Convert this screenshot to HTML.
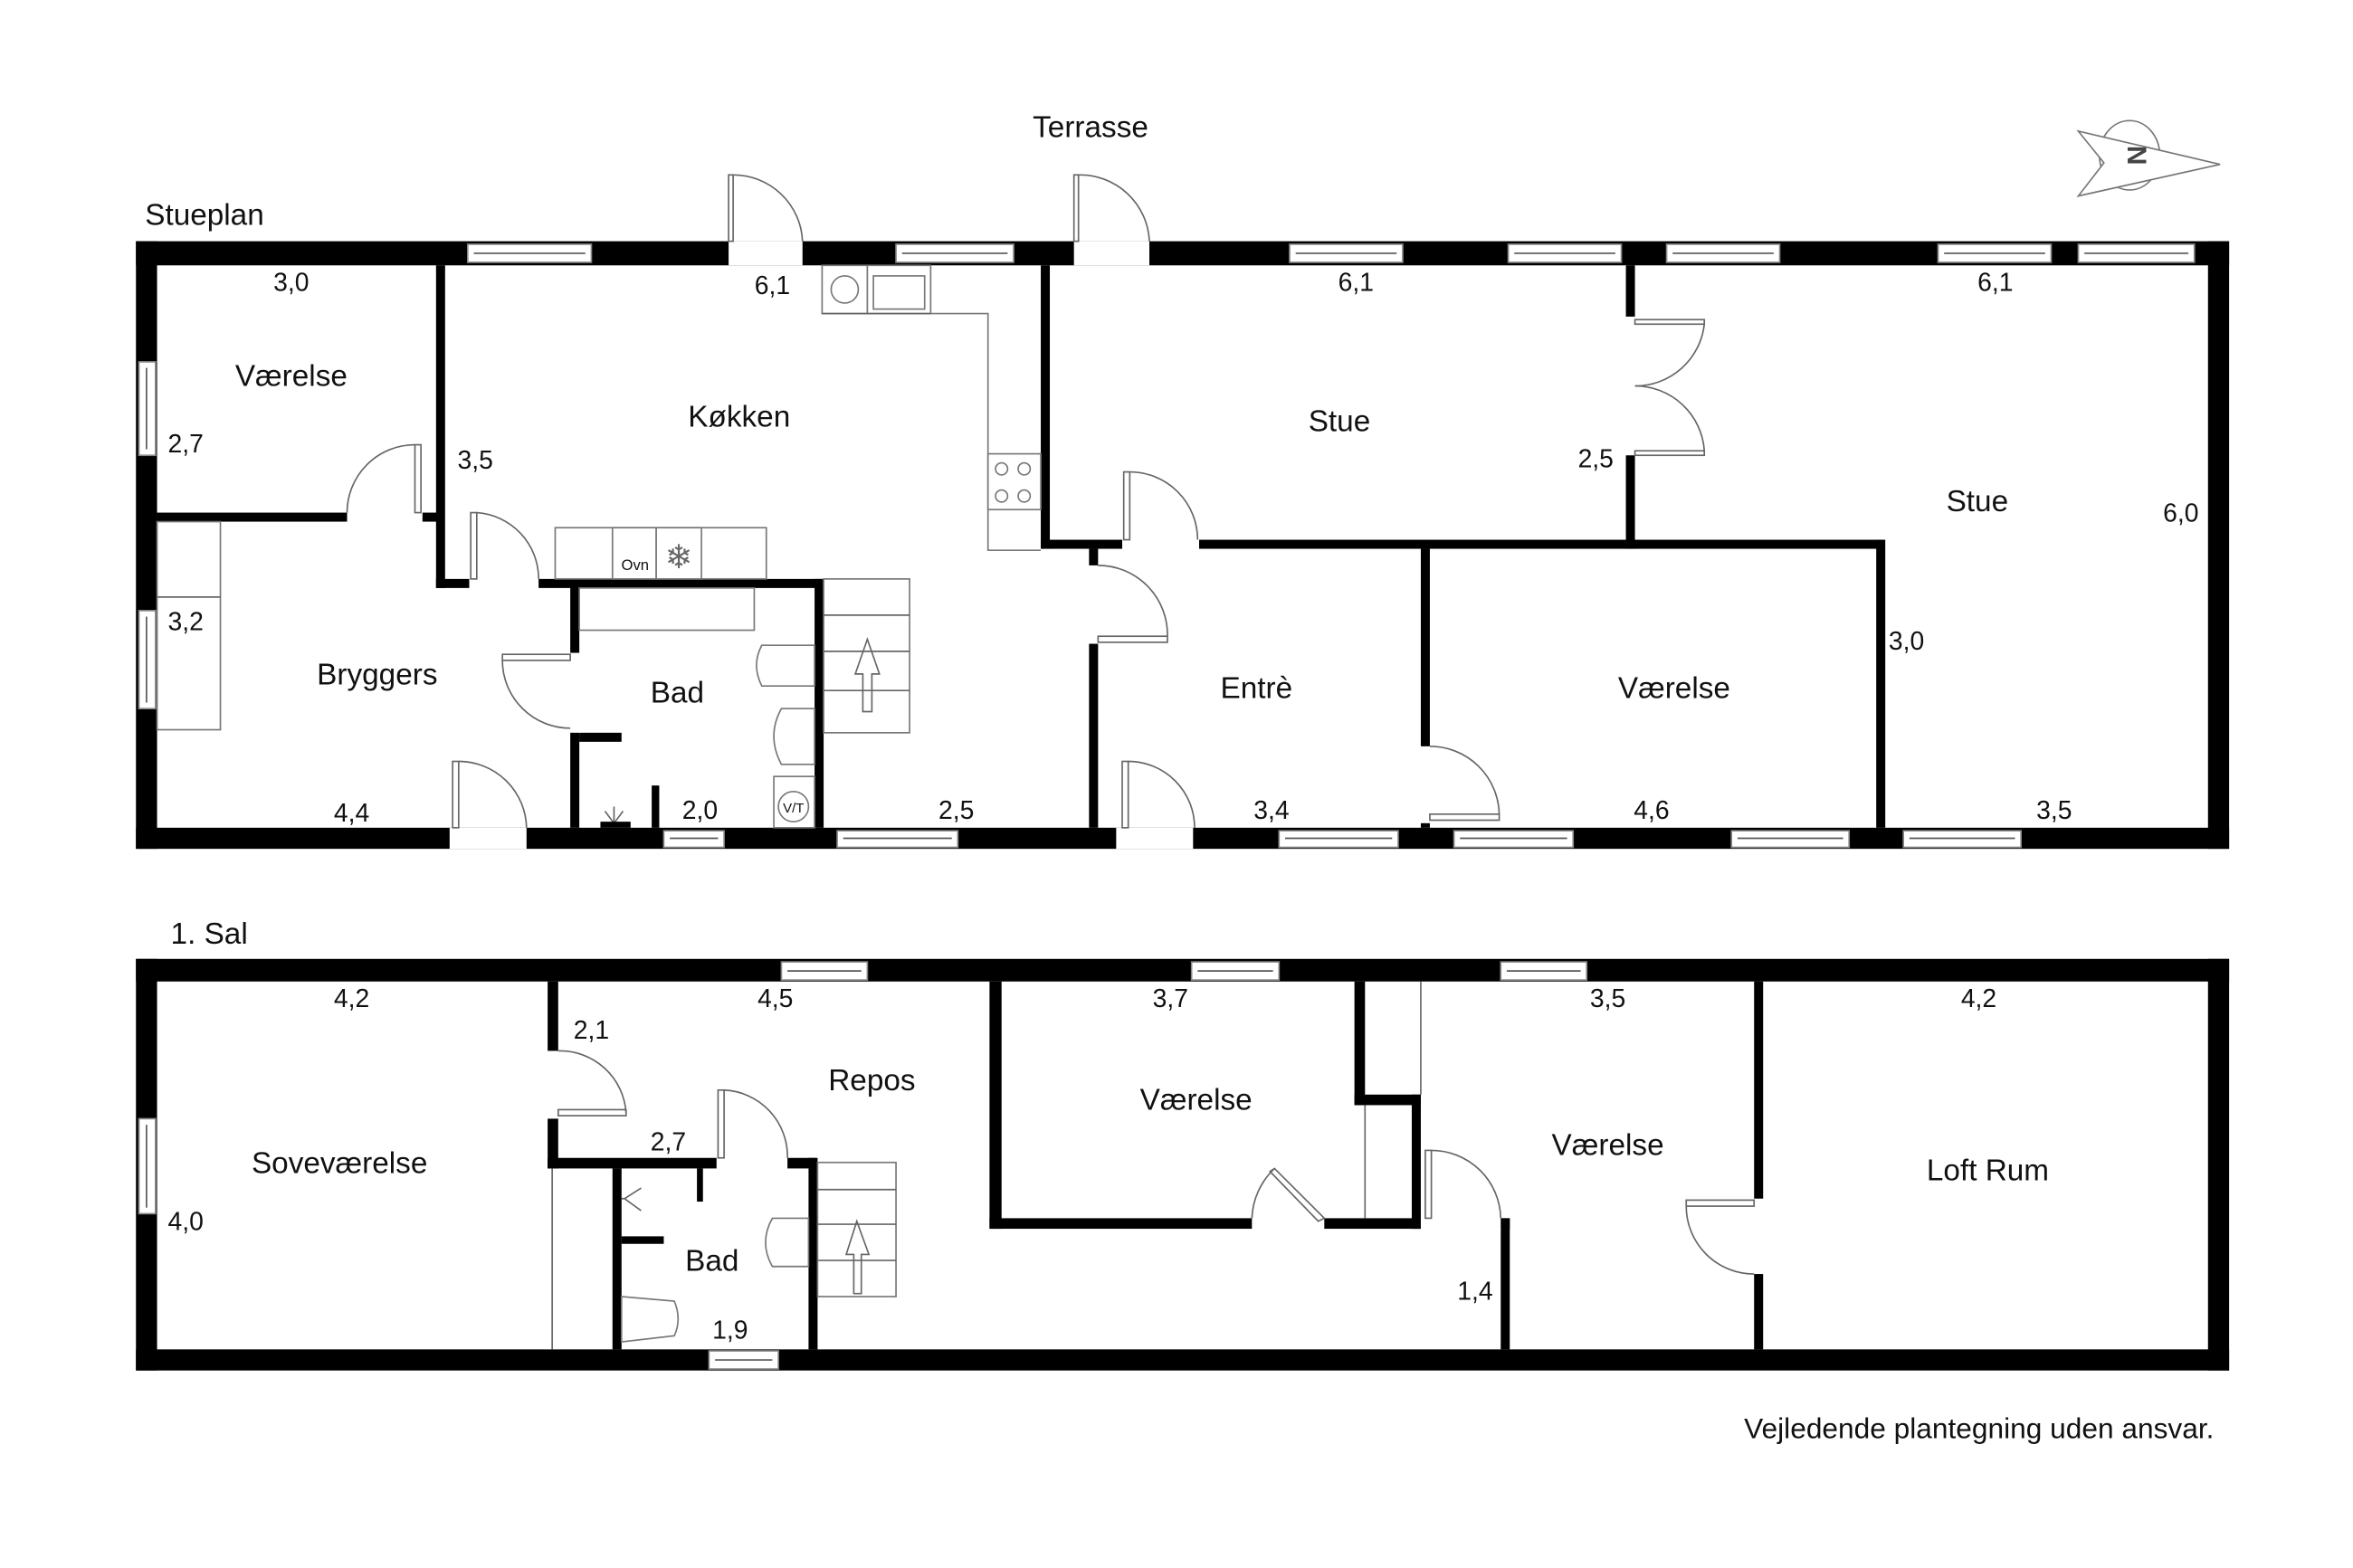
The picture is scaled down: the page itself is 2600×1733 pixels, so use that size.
<!DOCTYPE html>
<html><head><meta charset="utf-8"><style>
html,body{margin:0;padding:0;background:#fff}
svg{display:block}
text{font-family:"Liberation Sans",sans-serif;fill:#111}
.r{font-size:20px;text-anchor:middle}
.d{font-size:17px;text-anchor:middle}
.w{fill:#fff;stroke:#888;stroke-width:1}
.ln{stroke:#555;stroke-width:1;fill:none}
.ds{fill:none;stroke:#666;stroke-width:1}
.fx{fill:#fff;stroke:#777;stroke-width:1}
</style></head><body>
<svg width="2600" height="1733" viewBox="0 0 1560 1040" xmlns="http://www.w3.org/2000/svg">
<rect width="1560" height="1040" fill="#fff"/>
<text x="723" y="91" class="r">Terrasse</text>
<text x="96" y="149" style="font-size:20px">Stueplan</text>
<text x="113" y="626" style="font-size:20px">1. Sal</text>
<text x="1468" y="954" style="font-size:19px;text-anchor:end">Vejledende plantegning uden ansvar.</text>
<!-- compass -->
<ellipse cx="1412" cy="103" rx="20" ry="23" fill="none" stroke="#777" stroke-width="1"/>
<polygon points="1378,87 1472,109 1378,130 1395,108" fill="#fff" stroke="#777" stroke-width="1"/>
<text x="1416" y="110" transform="rotate(-90 1416 103)" style="font-size:18px;font-weight:bold;fill:#444;text-anchor:middle">N</text>

<!-- GROUND FLOOR outer walls -->
<g fill="#000">
<rect x="90" y="160" width="1388" height="16"/>
<rect x="90" y="549" width="1388" height="14"/>
<rect x="90" y="160" width="14" height="403"/>
<rect x="1464" y="160" width="14" height="403"/>
<rect x="289" y="176" width="6" height="214"/>
<rect x="104" y="340" width="186" height="6"/>
<rect x="289" y="384" width="256" height="6"/>
<rect x="378" y="384" width="6" height="165"/>
<rect x="540" y="384" width="6" height="165"/>
<rect x="384" y="486" width="28" height="6"/>
<rect x="432" y="521" width="5" height="28"/>
<rect x="690" y="176" width="6" height="188"/>
<rect x="690" y="358" width="558" height="6"/>
<rect x="1078" y="176" width="6" height="188"/>
<rect x="1244" y="358" width="6" height="191"/>
<rect x="722" y="364" width="6" height="185"/>
<rect x="942" y="364" width="6" height="185"/>
</g>
<g>
<rect class="w" x="310" y="162" width="82" height="12"/><line class="ln" x1="314" y1="168" x2="388" y2="168"/>
<rect class="w" x="594" y="162" width="78" height="12"/><line class="ln" x1="598" y1="168" x2="668" y2="168"/>
<rect class="w" x="855" y="162" width="75" height="12"/><line class="ln" x1="859" y1="168" x2="926" y2="168"/>
<rect class="w" x="1000" y="162" width="75" height="12"/><line class="ln" x1="1004" y1="168" x2="1071" y2="168"/>
<rect class="w" x="1105" y="162" width="75" height="12"/><line class="ln" x1="1109" y1="168" x2="1176" y2="168"/>
<rect class="w" x="1285" y="162" width="75" height="12"/><line class="ln" x1="1289" y1="168" x2="1356" y2="168"/>
<rect class="w" x="1378" y="162" width="77" height="12"/><line class="ln" x1="1382" y1="168" x2="1451" y2="168"/>
<rect class="w" x="440" y="551" width="40" height="11"/><line class="ln" x1="444" y1="556" x2="476" y2="556"/>
<rect class="w" x="555" y="551" width="80" height="11"/><line class="ln" x1="559" y1="556" x2="631" y2="556"/>
<rect class="w" x="848" y="551" width="79" height="11"/><line class="ln" x1="852" y1="556" x2="923" y2="556"/>
<rect class="w" x="964" y="551" width="79" height="11"/><line class="ln" x1="968" y1="556" x2="1039" y2="556"/>
<rect class="w" x="1148" y="551" width="78" height="11"/><line class="ln" x1="1152" y1="556" x2="1222" y2="556"/>
<rect class="w" x="1262" y="551" width="78" height="11"/><line class="ln" x1="1266" y1="556" x2="1336" y2="556"/>
<rect class="w" x="92" y="240" width="11" height="62"/><line class="ln" x1="97" y1="244" x2="97" y2="298"/>
<rect class="w" x="92" y="405" width="11" height="65"/><line class="ln" x1="97" y1="409" x2="97" y2="466"/>
</g>
<g>
<rect fill="#fff" x="483" y="160" width="49" height="16"/><rect class="ds" x="483" y="116" width="3" height="44"/><path class="ds" d="M486,116 A46,46 0 0 1 532,160"/>
<rect fill="#fff" x="712" y="160" width="50" height="16"/><rect class="ds" x="712" y="116" width="3" height="44"/><path class="ds" d="M715,116 A46,46 0 0 1 762,160"/>
<rect fill="#fff" x="230" y="339" width="50" height="8"/><rect class="ds" x="275" y="295" width="4" height="45"/><path class="ds" d="M275,295 A45,45 0 0 0 230,340"/>
<rect fill="#fff" x="311" y="383" width="46" height="8"/><rect class="ds" x="312" y="340" width="4" height="44"/><path class="ds" d="M316,340 A44,44 0 0 1 357,384"/>
<rect fill="#fff" x="377" y="433" width="8" height="53"/><rect class="ds" x="333" y="434" width="45" height="4"/><path class="ds" d="M333,438 A45,45 0 0 0 378,483"/>
<rect fill="#fff" x="298" y="549" width="51" height="14"/><rect class="ds" x="300" y="505" width="4" height="44"/><path class="ds" d="M304,505 A45,45 0 0 1 349,549"/>
<rect fill="#fff" x="744" y="357" width="51" height="8"/><rect class="ds" x="745" y="313" width="4" height="45"/><path class="ds" d="M749,313 A45,45 0 0 1 794,358"/>
<rect fill="#fff" x="721" y="375" width="8" height="52"/><rect class="ds" x="728" y="422" width="46" height="4"/><path class="ds" d="M728,375 A46,46 0 0 1 774,422"/>
<rect fill="#fff" x="740" y="549" width="51" height="14"/><rect class="ds" x="744" y="505" width="4" height="44"/><path class="ds" d="M748,505 A44,44 0 0 1 792,549"/>
<rect fill="#fff" x="941" y="495" width="8" height="51"/><rect class="ds" x="948" y="540" width="46" height="4"/><path class="ds" d="M948,495 A46,46 0 0 1 994,540"/>
<rect fill="#fff" x="1077" y="210" width="8" height="92"/>
<rect class="ds" x="1084" y="212" width="46" height="3"/><path class="ds" d="M1130,215 A46,46 0 0 1 1084,256"/>
<rect class="ds" x="1084" y="299" width="46" height="3"/><path class="ds" d="M1130,299 A46,46 0 0 0 1084,256"/>
</g>
<g>
<rect class="fx" x="545" y="176" width="30" height="32"/><circle class="fx" cx="560" cy="192" r="9"/>
<rect class="fx" x="575" y="176" width="42" height="32"/><rect class="fx" x="579" y="183" width="34" height="22"/>
<polyline class="fx" points="617,208 655,208 655,365 690,365"/>
<line class="ds" x1="545" y1="208" x2="617" y2="208"/>
<rect class="fx" x="655" y="301" width="35" height="37"/>
<circle class="fx" cx="664" cy="311" r="4"/><circle class="fx" cx="679" cy="311" r="4"/><circle class="fx" cx="664" cy="329" r="4"/><circle class="fx" cx="679" cy="329" r="4"/>
<rect class="fx" x="368" y="350" width="140" height="34"/>
<rect class="fx" x="406" y="350" width="29" height="34"/><text x="421" y="378" style="font-size:10px;text-anchor:middle">Ovn</text>
<rect class="fx" x="435" y="350" width="30" height="34"/><text x="450" y="377" style="font-size:22px;fill:#666;text-anchor:middle">❄</text>
<rect class="fx" x="384" y="390" width="116" height="28"/>
<rect class="fx" x="546" y="384" width="57" height="102"/>
<line class="ds" x1="546" y1="408" x2="603" y2="408"/><line class="ds" x1="546" y1="432" x2="603" y2="432"/><line class="ds" x1="546" y1="458" x2="603" y2="458"/>
<polygon class="ds" points="575,424 567,447 572,447 572,472 578,472 578,447 583,447"/>
<path class="fx" d="M540,428 L540,455 L505,455 Q498,441 505,428 Z"/>
<path class="fx" d="M540,470 L540,507 L518,507 Q508,488 518,470 Z"/>
<rect class="fx" x="513" y="515" width="27" height="34"/><circle class="fx" cx="526" cy="535" r="10"/><text x="526" y="539" style="font-size:9px;text-anchor:middle">V/T</text>
<rect class="fx" x="104" y="346" width="42" height="138"/><line class="ds" x1="104" y1="396" x2="146" y2="396"/>
<path class="ds" d="M407,535 L407,546 M401,538 L407,546 L413,538"/><rect x="398" y="545" width="20" height="4" fill="#000"/>
</g>
<text class="r" x="193" y="256">Værelse</text>
<text class="r" x="490" y="283">Køkken</text>
<text class="r" x="888" y="286">Stue</text>
<text class="r" x="1311" y="339">Stue</text>
<text class="r" x="250" y="454">Bryggers</text>
<text class="r" x="449" y="466">Bad</text>
<text class="r" x="833" y="463">Entrè</text>
<text class="r" x="1110" y="463">Værelse</text>
<text class="d" x="193" y="193">3,0</text>
<text class="d" x="512" y="195">6,1</text>
<text class="d" x="899" y="193">6,1</text>
<text class="d" x="1323" y="193">6,1</text>
<text class="d" x="123" y="300">2,7</text>
<text class="d" x="315" y="311">3,5</text>
<text class="d" x="1058" y="310">2,5</text>
<text class="d" x="1446" y="346">6,0</text>
<text class="d" x="123" y="418">3,2</text>
<text class="d" x="1264" y="431">3,0</text>
<text class="d" x="233" y="545">4,4</text>
<text class="d" x="464" y="543">2,0</text>
<text class="d" x="634" y="543">2,5</text>
<text class="d" x="843" y="543">3,4</text>
<text class="d" x="1095" y="543">4,6</text>
<text class="d" x="1362" y="543">3,5</text>

<g fill="#000">
<rect x="90" y="636" width="1388" height="15"/>
<rect x="90" y="895" width="1388" height="14"/>
<rect x="90" y="636" width="14" height="273"/>
<rect x="1464" y="636" width="14" height="273"/>
<rect x="363" y="651" width="7" height="124"/>
<rect x="363" y="768" width="178" height="7"/>
<rect x="406" y="775" width="6" height="120"/>
<rect x="412" y="820" width="28" height="5"/>
<rect x="462" y="775" width="4" height="22"/>
<rect x="536" y="768" width="6" height="127"/>
<rect x="656" y="651" width="8" height="164"/>
<rect x="656" y="808" width="286" height="7"/>
<rect x="898" y="651" width="7" height="82"/>
<rect x="898" y="726" width="44" height="7"/>
<rect x="936" y="726" width="6" height="89"/>
<rect x="936" y="808" width="65" height="7"/>
<rect x="995" y="808" width="6" height="87"/>
<rect x="1163" y="651" width="6" height="244"/>
</g>
<line class="ds" x1="366" y1="775" x2="366" y2="895"/>
<line class="ds" x1="905" y1="733" x2="905" y2="808"/>
<line class="ds" x1="942" y1="651" x2="942" y2="726"/>
<g>
<rect class="w" x="518" y="638" width="57" height="12"/><line class="ln" x1="522" y1="644" x2="571" y2="644"/>
<rect class="w" x="790" y="638" width="58" height="12"/><line class="ln" x1="794" y1="644" x2="844" y2="644"/>
<rect class="w" x="995" y="638" width="57" height="12"/><line class="ln" x1="999" y1="644" x2="1048" y2="644"/>
<rect class="w" x="470" y="896" width="46" height="12"/><line class="ln" x1="474" y1="902" x2="512" y2="902"/>
<rect class="w" x="92" y="742" width="11" height="63"/><line class="ln" x1="97" y1="746" x2="97" y2="801"/>
</g>
<g>
<rect fill="#fff" x="362" y="697" width="9" height="45"/><rect class="ds" x="370" y="736" width="45" height="4"/><path class="ds" d="M370,697 A44,44 0 0 1 415,738"/>
<rect fill="#fff" x="475" y="767" width="47" height="9"/><rect class="ds" x="476" y="723" width="4" height="45"/><path class="ds" d="M480,723 A44,44 0 0 1 522,768"/>
<rect fill="#fff" x="830" y="807" width="48" height="9"/><polygon class="ds" points="845,775 878,808 874,810 842,777"/><path class="ds" d="M830,808 A48,48 0 0 1 845,775"/>
<rect fill="#fff" x="942" y="807" width="53" height="9"/><rect class="ds" x="945" y="763" width="4" height="45"/><path class="ds" d="M949,763 A46,46 0 0 1 995,808"/>
<rect fill="#fff" x="1162" y="795" width="8" height="50"/><rect class="ds" x="1118" y="796" width="45" height="4"/><path class="ds" d="M1118,800 A45,45 0 0 0 1163,845"/>
</g>
<g>
<rect class="fx" x="542" y="771" width="52" height="89"/>
<line class="ds" x1="542" y1="789" x2="594" y2="789"/><line class="ds" x1="542" y1="812" x2="594" y2="812"/><line class="ds" x1="542" y1="836" x2="594" y2="836"/>
<polygon class="ds" points="568,810 561,832 566,832 566,858 571,858 571,832 576,832"/>
<path class="fx" d="M536,808 L536,840 L512,840 Q503,824 512,808 Z"/>
<path class="fx" d="M412,860 L412,890 L447,886 Q452,875 447,863 Z"/>
<path class="ds" d="M425,788 L414,795 L425,803 M414,795 L412,795"/>
</g>
<text class="r" x="225" y="778">Soveværelse</text>
<text class="r" x="578" y="723">Repos</text>
<text class="r" x="793" y="736">Værelse</text>
<text class="r" x="1066" y="766">Værelse</text>
<text class="r" x="1318" y="783">Loft Rum</text>
<text class="r" x="472" y="843">Bad</text>
<text class="d" x="233" y="668">4,2</text>
<text class="d" x="514" y="668">4,5</text>
<text class="d" x="776" y="668">3,7</text>
<text class="d" x="1066" y="668">3,5</text>
<text class="d" x="1312" y="668">4,2</text>
<text class="d" x="392" y="689">2,1</text>
<text class="d" x="443" y="763">2,7</text>
<text class="d" x="123" y="816">4,0</text>
<text class="d" x="978" y="862">1,4</text>
<text class="d" x="484" y="888">1,9</text>
</svg>
</body></html>
